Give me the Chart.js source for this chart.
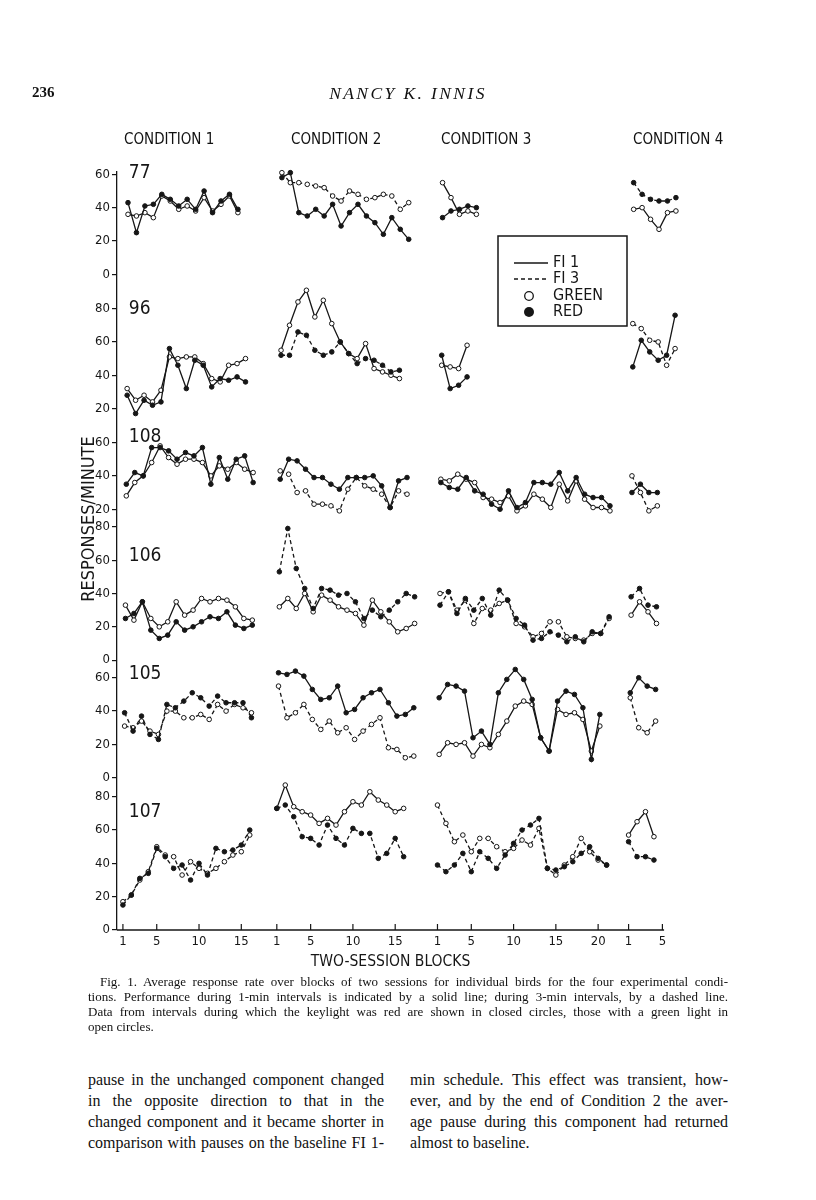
<!DOCTYPE html>
<html>
<head>
<meta charset="utf-8">
<script src="https://cdn.jsdelivr.net/npm/chart.js@4/dist/chart.umd.min.js"></script>
<style>
  body { margin: 0; background: #fff; }
  #page { position: relative; width: 816px; height: 1200px; overflow: hidden; color: #111; font-family: "Liberation Serif", serif; }
  #fig { position: absolute; left: 0; top: 0; }
  .abs { position: absolute; white-space: nowrap; }
  .narrow { font-family: "Liberation Sans Narrow", "DejaVu Sans Condensed", "Liberation Sans", sans-serif; }
  .cond { font-size: 15px; top: 130px; }
  .cap { position: absolute; left: 88px; width: 640px; font-size: 13px; line-height: 15px; }
  .cap div, .col div { white-space: nowrap; text-align: justify; text-align-last: justify; }
  .cap div.last, .col div.last { text-align-last: left; }
  .col { position: absolute; top: 1069px; font-size: 16px; line-height: 21px; }
</style>
</head>
<body>
<div id="page">
  <canvas id="fig" width="816" height="1000"></canvas>

  <div class="abs" style="left:32px;top:84px;font-weight:bold;font-size:15px;">236</div>
  <div class="abs" style="left:0;width:816px;text-align:center;top:83px;font-style:italic;font-size:17.5px;letter-spacing:2.4px;">NANCY K. INNIS</div>

  <div class="abs narrow cond" style="left:124px;">CONDITION 1</div>
  <div class="abs narrow cond" style="left:291px;">CONDITION 2</div>
  <div class="abs narrow cond" style="left:441px;">CONDITION 3</div>
  <div class="abs narrow cond" style="left:633px;">CONDITION 4</div>

  <div class="cap" style="top:974px;">
    <div style="padding-left:12px;">Fig. 1. Average response rate over blocks of two sessions for individual birds for the four experimental condi-</div>
    <div>tions. Performance during 1-min intervals is indicated by a solid line; during 3-min intervals, by a dashed line.</div>
    <div>Data from intervals during which the keylight was red are shown in closed circles, those with a green light in</div>
    <div class="last">open circles.</div>
  </div>

  <div class="col" style="left:88px;width:296px;">
    <div>pause in the unchanged component changed</div>
    <div>in the opposite direction to that in the</div>
    <div>changed component and it became shorter in</div>
    <div>comparison with pauses on the baseline FI 1-</div>
  </div>
  <div class="col" style="left:410px;width:318px;">
    <div>min schedule. This effect was transient, how-</div>
    <div>ever, and by the end of Condition 2 the aver-</div>
    <div>age pause during this component had returned</div>
    <div class="last">almost to baseline.</div>
  </div>
</div>

<script>
'use strict'

// tick labels of the shared block axis, one list per condition
const xTicksC1 = [1, 5, 10, 15]
const xTicksC2 = [1, 5, 10, 15]
const xTicksC3 = [1, 5, 10, 15, 20]
const xTicksC4 = [1, 5]

// y tick labels of each bird's panel
const yTicks77 = [0, 20, 40, 60]
const yTicks96 = [20, 40, 60, 80]
const yTicks108 = [20, 40, 60]
const yTicks106 = [0, 20, 40, 60, 80]
const yTicks105 = [0, 20, 40, 60]
const yTicks107 = [0, 20, 40, 60, 80]

const birdNames = ['77', '96', '108', '106', '105', '107']

// responses per minute, one value per two-session block
// bird 77
const red77c1 = [43, 25, 41, 42, 48, 45, 41, 45, 39, 50, 37, 44, 48, 39]
const green77c1 = [36, 35, 37, 34, 47, 44, 39, 41, 38, 46, 38, 42, 47, 37]
const red77c2 = [58, 61, 37, 35, 39, 35, 42, 29, 37, 42, 35, 31, 24, 34, 27, 21]
const green77c2 = [61, 55, 55, 54, 53, 52, 47, 44, 50, 48, 45, 46, 48, 47, 39, 43]
const red77c3 = [34, 38, 39, 41, 40]
const green77c3 = [55, 46, 36, 38, 36]
const red77c4 = [55, 48, 45, 44, 44, 46]
const green77c4 = [39, 40, 33, 27, 37, 38]
// bird 96
const red96c1 = [28, 17, 25, 22, 24, 56, 46, 32, 49, 46, 33, 38, 37, 39, 36]
const green96c1 = [32, 25, 28, 24, 31, 51, 50, 51, 51, 47, 38, 36, 46, 47, 50]
const red96c2 = [52, 52, 66, 64, 55, 52, 54, 60, 53, 47, 50, 49, 46, 42, 43]
const green96c2 = [55, 70, 84, 91, 75, 85, 71, 60, 53, 50, 59, 44, 42, 40, 38]
const red96c3 = [52, 32, 34, 39]
const green96c3 = [46, 45, 44, 58]
const red96c4 = [45, 61, 54, 49, 52, 76]
const green96c4 = [71, 68, 61, 60, 46, 56]
// bird 108
const red108c1 = [35, 42, 40, 57, 57, 55, 50, 54, 52, 57, 35, 51, 38, 50, 52, 36]
const green108c1 = [28, 36, 40, 48, 58, 51, 47, 50, 50, 48, 40, 46, 44, 48, 44, 42]
const red108c2 = [38, 50, 49, 44, 39, 39, 35, 32, 39, 39, 39, 40, 34, 21, 37, 39]
const green108c2 = [43, 41, 30, 31, 23, 23, 22, 19, 32, 39, 34, 32, 29, 21, 31, 29]
const red108c3 = [36, 33, 32, 39, 31, 29, 23, 20, 31, 21, 24, 36, 36, 35, 42, 31, 39, 29, 27, 27, 22]
const green108c3 = [38, 37, 41, 38, 36, 27, 26, 24, 28, 19, 22, 29, 26, 21, 35, 25, 37, 26, 21, 21, 19]
const red108c4 = [30, 35, 30, 30]
const green108c4 = [40, 30, 19, 22]
// bird 106
const red106c1 = [25, 28, 35, 18, 13, 15, 23, 18, 20, 23, 26, 25, 29, 21, 19, 21]
const green106c1 = [33, 24, 35, 25, 20, 23, 35, 27, 30, 37, 35, 37, 36, 32, 25, 24]
const red106c2 = [53, 79, 55, 43, 31, 43, 42, 39, 40, 35, 25, 30, 26, 30, 35, 40, 38]
const green106c2 = [32, 37, 31, 40, 29, 39, 36, 32, 30, 28, 21, 36, 29, 23, 17, 19, 22]
const red106c3 = [33, 41, 28, 37, 30, 37, 27, 42, 36, 25, 21, 12, 13, 17, 15, 11, 14, 11, 17, 16, 26]
const green106c3 = [40, 41, 30, 36, 22, 31, 30, 34, 36, 22, 20, 14, 16, 23, 23, 14, 13, 12, 16, 16, 25]
const red106c4 = [38, 43, 33, 32]
const green106c4 = [27, 35, 29, 22]
// bird 105
const red105c1 = [39, 28, 37, 26, 23, 44, 42, 46, 51, 48, 43, 49, 45, 45, 45, 36]
const green105c1 = [31, 30, 34, 28, 26, 40, 40, 36, 36, 38, 35, 44, 40, 44, 42, 39]
const red105c2 = [63, 62, 64, 61, 53, 47, 48, 55, 39, 41, 48, 51, 53, 45, 37, 38, 42]
const green105c2 = [55, 36, 39, 44, 35, 29, 34, 27, 30, 23, 28, 32, 36, 18, 17, 12, 13]
const red105c3 = [48, 56, 55, 52, 24, 28, 20, 51, 59, 65, 59, 47, 24, 16, 46, 52, 50, 42, 11, 38]
const green105c3 = [14, 21, 20, 21, 13, 20, 18, 26, 34, 43, 46, 44, 24, 16, 41, 38, 39, 35, 16, 31]
const red105c4 = [51, 60, 55, 53]
const green105c4 = [48, 30, 27, 34]
// bird 107
const red107c1 = [15, 21, 31, 34, 49, 44, 37, 39, 30, 40, 33, 49, 47, 48, 51, 60]
const green107c1 = [17, 21, 30, 35, 50, 45, 44, 33, 41, 37, 34, 37, 41, 45, 47, 57]
const red107c2 = [73, 75, 68, 56, 55, 51, 63, 55, 51, 61, 58, 58, 43, 46, 55, 44]
const green107c2 = [73, 87, 74, 71, 69, 64, 67, 63, 71, 77, 75, 83, 78, 75, 71, 73]
const red107c3 = [39, 35, 39, 46, 35, 47, 43, 37, 45, 52, 60, 63, 67, 37, 36, 38, 41, 46, 50, 43, 39]
const green107c3 = [75, 64, 53, 57, 47, 55, 55, 50, 47, 49, 54, 51, 61, 37, 33, 39, 44, 55, 47, 42, 39]
const red107c4 = [53, 44, 44, 42]
const green107c4 = [57, 65, 71, 56]

// [bird, condition, values, dashed (FI 3), open circle (green)]
const series = [
  [0, 0, red77c1, false, false], [0, 0, green77c1, false, true],
  [0, 1, red77c2, false, false], [0, 1, green77c2, true, true],
  [0, 2, red77c3, false, false], [0, 2, green77c3, false, true],
  [0, 3, red77c4, true, false], [0, 3, green77c4, false, true],
  [1, 0, red96c1, false, false], [1, 0, green96c1, false, true],
  [1, 1, red96c2, true, false], [1, 1, green96c2, false, true],
  [1, 2, red96c3, false, false], [1, 2, green96c3, false, true],
  [1, 3, red96c4, false, false], [1, 3, green96c4, true, true],
  [2, 0, red108c1, false, false], [2, 0, green108c1, false, true],
  [2, 1, red108c2, false, false], [2, 1, green108c2, true, true],
  [2, 2, red108c3, false, false], [2, 2, green108c3, false, true],
  [2, 3, red108c4, false, false], [2, 3, green108c4, true, true],
  [3, 0, red106c1, false, false], [3, 0, green106c1, false, true],
  [3, 1, red106c2, true, false], [3, 1, green106c2, false, true],
  [3, 2, red106c3, true, false], [3, 2, green106c3, true, true],
  [3, 3, red106c4, true, false], [3, 3, green106c4, false, true],
  [4, 0, red105c1, true, false], [4, 0, green105c1, true, true],
  [4, 1, red105c2, false, false], [4, 1, green105c2, true, true],
  [4, 2, red105c3, false, false], [4, 2, green105c3, false, true],
  [4, 3, red105c4, false, false], [4, 3, green105c4, true, true],
  [5, 0, red107c1, true, false], [5, 0, green107c1, true, true],
  [5, 1, red107c2, true, false], [5, 1, green107c2, false, true],
  [5, 2, red107c3, true, false], [5, 2, green107c3, true, true],
  [5, 3, red107c4, true, false], [5, 3, green107c4, false, true]
]

// layout: where each panel's zero sits on the shared y scale, where each condition starts on x
const birdBase = [393.6, 293, 232.6, 162, 91.4, 0]
const birdLabelAt = [60.5, 79.5, 63, 62.5, 62, 71]
const condStart = [0, 18.2, 37.2, 59.8]
// the printed figure leans a little: upper panels sit a few pixels to the right
const birdSkew = [0.6, 0.5, 0.4, 0.3, 0.2, 0]
// the drawn baseline stops at block 5 of condition 4; the plot area runs a bit further
const axisEnd = 65

const ink = '#161616'
const narrow = '"Liberation Sans Narrow", "DejaVu Sans Condensed", "Liberation Sans", sans-serif'

const xTickSets = [xTicksC1, xTicksC2, xTicksC3, xTicksC4]
const xTickList = []
xTickSets.forEach((set, c) => set.forEach(b => xTickList.push({ value: condStart[c] + b, txt: String(b) })))

const yTickSets = [yTicks77, yTicks96, yTicks108, yTicks106, yTicks105, yTicks107]
const yTickList = []
yTickSets.forEach((set, i) => set.forEach(v => yTickList.push({ value: birdBase[i] + v, txt: String(v) })))

const labelFor = (list, value) => {
  const hit = list.find(t => Math.abs(t.value - value) < 0.01)
  return hit ? hit.txt : ''
}

const datasets = series.map(([bi, ci, vals, dashed, open]) => ({
  data: vals.map((v, i) => ({ x: condStart[ci] + birdSkew[bi] + i + 1, y: birdBase[bi] + v })),
  borderColor: ink,
  borderWidth: 1.3,
  borderDash: dashed ? [4, 3] : [],
  pointRadius: 2.3,
  pointBorderWidth: 1,
  pointBorderColor: ink,
  pointBackgroundColor: open ? '#fff' : ink,
  tension: 0,
  clip: false
}))

const decor = {
  id: 'decor',
  afterDraw(chart) {
    const ctx = chart.ctx
    const xs = chart.scales.x
    const ys = chart.scales.y
    const endPx = xs.getPixelForValue(axisEnd)
    ctx.save()
    ctx.strokeStyle = ink
    ctx.fillStyle = ink

    // baseline, only as far as the last tick
    ctx.lineWidth = 1.3
    ctx.beginPath()
    ctx.moveTo(xs.left, ys.bottom)
    ctx.lineTo(endPx, ys.bottom)
    ctx.stroke()

    // x ticks stand up from the baseline
    ctx.lineWidth = 1.2
    xs.ticks.forEach(t => {
      const px = xs.getPixelForValue(t.value)
      ctx.beginPath()
      ctx.moveTo(px, ys.bottom)
      ctx.lineTo(px, ys.bottom - 6)
      ctx.stroke()
    })

    // axis titles
    ctx.font = '15.5px ' + narrow
    ctx.textAlign = 'center'
    ctx.textBaseline = 'middle'
    ctx.fillText('TWO-SESSION BLOCKS', (xs.left + endPx) / 2, 962)

    ctx.save()
    ctx.translate(89, 519)
    ctx.rotate(-Math.PI / 2)
    ctx.font = '18px ' + narrow
    ctx.fillText('RESPONSES/MINUTE', 0, 0)
    ctx.restore()

    // bird numbers
    ctx.font = '19px ' + narrow
    ctx.textAlign = 'left'
    birdNames.forEach((name, i) => {
      ctx.fillText(name, xs.getPixelForValue(1.7), ys.getPixelForValue(birdBase[i] + birdLabelAt[i]))
    })

    // legend box
    ctx.lineWidth = 1.5
    ctx.strokeRect(498, 236, 129, 90)
    ctx.font = '16px ' + narrow
    ctx.lineWidth = 1.3
    ctx.beginPath()
    ctx.moveTo(514, 263)
    ctx.lineTo(548, 263)
    ctx.stroke()
    ctx.setLineDash([4, 3])
    ctx.beginPath()
    ctx.moveTo(514, 279)
    ctx.lineTo(548, 279)
    ctx.stroke()
    ctx.setLineDash([])
    ctx.beginPath()
    ctx.arc(529, 296, 4.3, 0, Math.PI * 2)
    ctx.stroke()
    ctx.beginPath()
    ctx.arc(529, 312, 5, 0, Math.PI * 2)
    ctx.fill()
    ctx.fillText('FI 1', 553, 263)
    ctx.fillText('FI 3', 553, 279)
    ctx.fillText('GREEN', 553, 296)
    ctx.fillText('RED', 553, 312)
    ctx.restore()
  }
}

new Chart(document.getElementById('fig'), {
  type: 'line',
  data: { datasets },
  plugins: [decor],
  options: {
    responsive: false,
    animation: false,
    devicePixelRatio: 1,
    layout: { padding: { left: 78, right: 135, top: 172, bottom: 26 } },
    plugins: { legend: { display: false }, tooltip: { enabled: false } },
    scales: {
      x: {
        type: 'linear',
        min: 0.3,
        max: 67,
        afterBuildTicks: scale => { scale.ticks = xTickList.map(t => ({ value: t.value })) },
        afterFit: scale => { scale.height = 44 },
        grid: { drawOnChartArea: false, drawTicks: false },
        border: { display: false },
        ticks: {
          autoSkip: false,
          maxRotation: 0,
          padding: 4,
          color: ink,
          font: { family: narrow, size: 13 },
          callback: value => labelFor(xTickList, value)
        }
      },
      y: {
        type: 'linear',
        min: 0,
        max: 455,
        afterBuildTicks: scale => { scale.ticks = yTickList.map(t => ({ value: t.value })) },
        afterFit: scale => { scale.width = 39 },
        grid: { drawOnChartArea: false, drawTicks: true, tickLength: 5, color: ink, lineWidth: 1.2 },
        border: { display: true, color: ink, width: 1.3 },
        ticks: {
          autoSkip: false,
          padding: 2,
          color: ink,
          font: { family: narrow, size: 13 },
          callback: value => labelFor(yTickList, value)
        }
      }
    }
  }
})
</script>
</body>
</html>
